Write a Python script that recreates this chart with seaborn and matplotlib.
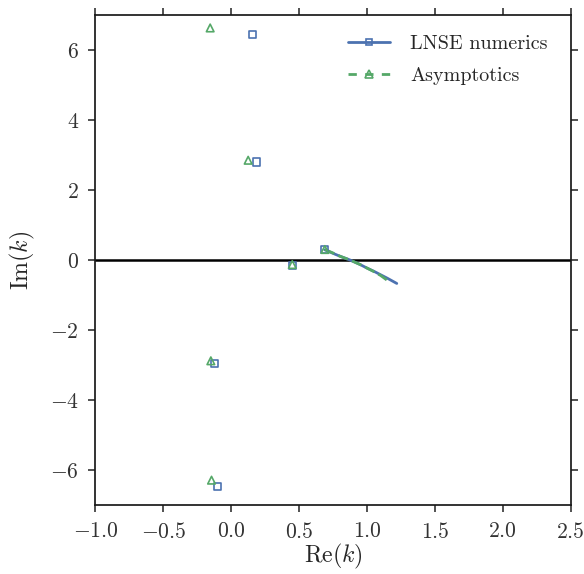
import matplotlib
matplotlib.use('Agg')
import numpy as np
import pandas as pd
import seaborn as sns
import matplotlib.pyplot as plt
from matplotlib.lines import Line2D

# discrete eigenvalues k = Re + i Im
num_re = [0.155, 0.185, 0.45, 0.69, -0.125, -0.10]
num_im = [6.45, 2.80, -0.15, 0.30, -2.95, -6.48]
asy_re = [-0.155, 0.125, 0.45, 0.69, -0.15, -0.145]
asy_im = [6.63, 2.85, -0.13, 0.30, -2.88, -6.29]

# continuous branch
num_curve_re = [0.69, 0.75, 0.80, 0.875, 0.95, 1.00, 1.05, 1.10, 1.15, 1.22]
num_curve_im = [0.29, 0.19, 0.11, 0.00, -0.13, -0.23, -0.32, -0.42, -0.52, -0.67]
asy_curve_re = [0.69, 0.75, 0.80, 0.875, 0.95, 1.00, 1.05, 1.10, 1.146]
asy_curve_im = [0.30, 0.20, 0.11, 0.00, -0.13, -0.23, -0.33, -0.44, -0.57]

xticks = [-1.0, -0.5, 0.0, 0.5, 1.0, 1.5, 2.0, 2.5]
yticks = [-6, -4, -2, 0, 2, 4, 6]

sns.set_style('ticks')
plt.rcParams['font.family'] = 'serif'
plt.rcParams['font.serif'] = ['cmr10']
plt.rcParams['mathtext.fontset'] = 'cm'
plt.rcParams['axes.formatter.use_mathtext'] = True
plt.rcParams['axes.unicode_minus'] = True

blue, green = sns.color_palette('deep')[0], sns.color_palette('deep')[2]

fig = plt.figure(figsize=(5.84, 5.74), dpi=100)
ax = fig.add_axes([0.1635, 0.1202, 0.8134, 0.8537])

ax.axhline(0, color='k', lw=1.8, zorder=1)

sns.lineplot(x=num_curve_re, y=num_curve_im, sort=False, color=blue, lw=2, ax=ax)
sns.lineplot(x=asy_curve_re, y=asy_curve_im, sort=False, color=green, lw=2,
             dashes=False, ls='--', ax=ax)

sns.scatterplot(x=num_re, y=num_im, marker='s', s=26, facecolor='none',
                edgecolor=blue, linewidth=1.2, ax=ax, zorder=3)
sns.scatterplot(x=asy_re, y=asy_im, marker='^', s=30, facecolor='none',
                edgecolor=green, linewidth=1.2, ax=ax, zorder=3)

ax.set_xlim(-1.0, 2.5)
ax.set_ylim(-7, 7)
ax.set_xticks(xticks)
ax.set_yticks(yticks)
ax.tick_params(axis='both', which='major', labelsize=15.6, direction='out',
               length=5, width=1.2, top=True, right=True, colors='.2', pad=7)
for sp in ax.spines.values():
    sp.set_linewidth(1.25)
    sp.set_color('.1')

ax.set_xlabel(r'$\mathrm{Re}(k)$', fontsize=17.2, labelpad=0.5)
ax.set_ylabel(r'$\mathrm{Im}(k)$', fontsize=17.2, labelpad=9)

handles = [
    Line2D([], [], color=blue, lw=2, marker='s', ms=5, mfc='none', mew=1.2),
    Line2D([], [], color=green, lw=2, ls='--', dashes=(3, 3), marker='^', ms=5.5,
           mfc='none', mew=1.2),
]
ax.legend(handles, ['LNSE numerics', 'Asymptotics'], loc='upper right',
          bbox_to_anchor=(0.99, 0.996), frameon=False, fontsize=14.5,
          numpoints=1, handlelength=2.1, labelspacing=0.7, handletextpad=1.0)

fig.savefig('out.png', dpi=100)
